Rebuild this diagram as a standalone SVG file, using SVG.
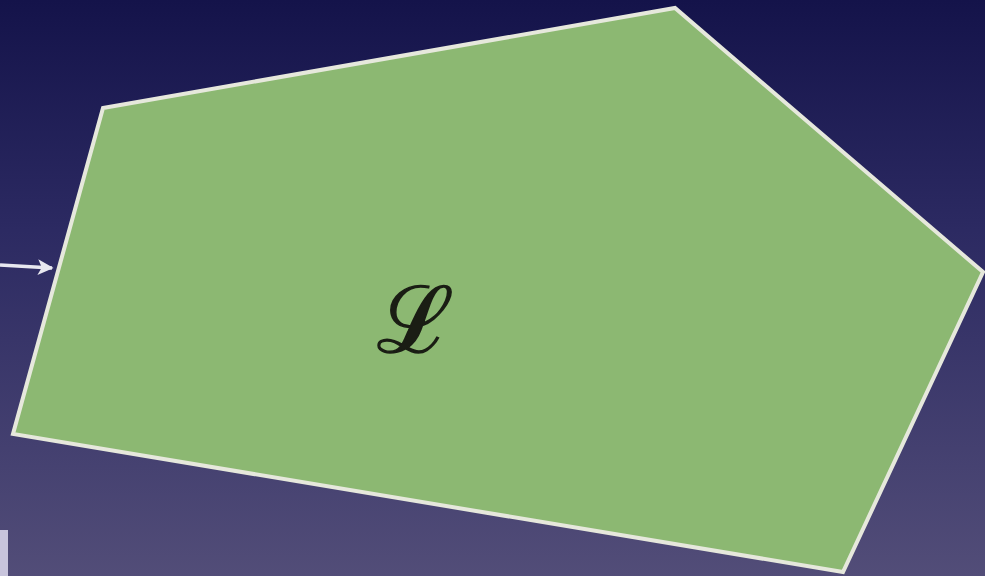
<svg xmlns="http://www.w3.org/2000/svg" width="985" height="576" viewBox="0 0 985 576">
<defs>
<linearGradient id="bg" x1="0" y1="0" x2="0" y2="1">
<stop offset="0" stop-color="#14134a"/>
<stop offset="0.4" stop-color="#2c2a62"/>
<stop offset="1" stop-color="#524d78"/>
</linearGradient>
<marker id="ah" viewBox="0 0 10 10" refX="9" refY="5" markerWidth="4.5" markerHeight="4.5" orient="auto">
<path d="M0,0 L10,5 L0,10 L2.5,5 z" fill="#e8e8f0"/>
</marker>
<style>
.poly{fill:#8cb872;stroke:#e6e8dc;stroke-width:4;stroke-linejoin:miter}
.lbl{font-family:"DejaVu Serif","Liberation Serif",serif;font-size:92px;fill:#1a1d14;stroke:#1a1d14;stroke-width:1.5}
.edge{stroke:#e8e8f0;stroke-width:3.5;fill:none}
</style>
</defs>
<rect width="985" height="576" fill="url(#bg)"/>
<rect x="0" y="530" width="8" height="46" fill="#c8c4dc"/>
<g id="node-L">
<polygon class="poly" points="103,108 675,8 983,272 843,572 13,434"/>
<text class="lbl" x="415" y="352" text-anchor="middle">ℒ</text>
</g>
<g id="connectors">
<line class="edge" x1="0" y1="265" x2="52" y2="268" marker-end="url(#ah)"/>
</g>
</svg>
